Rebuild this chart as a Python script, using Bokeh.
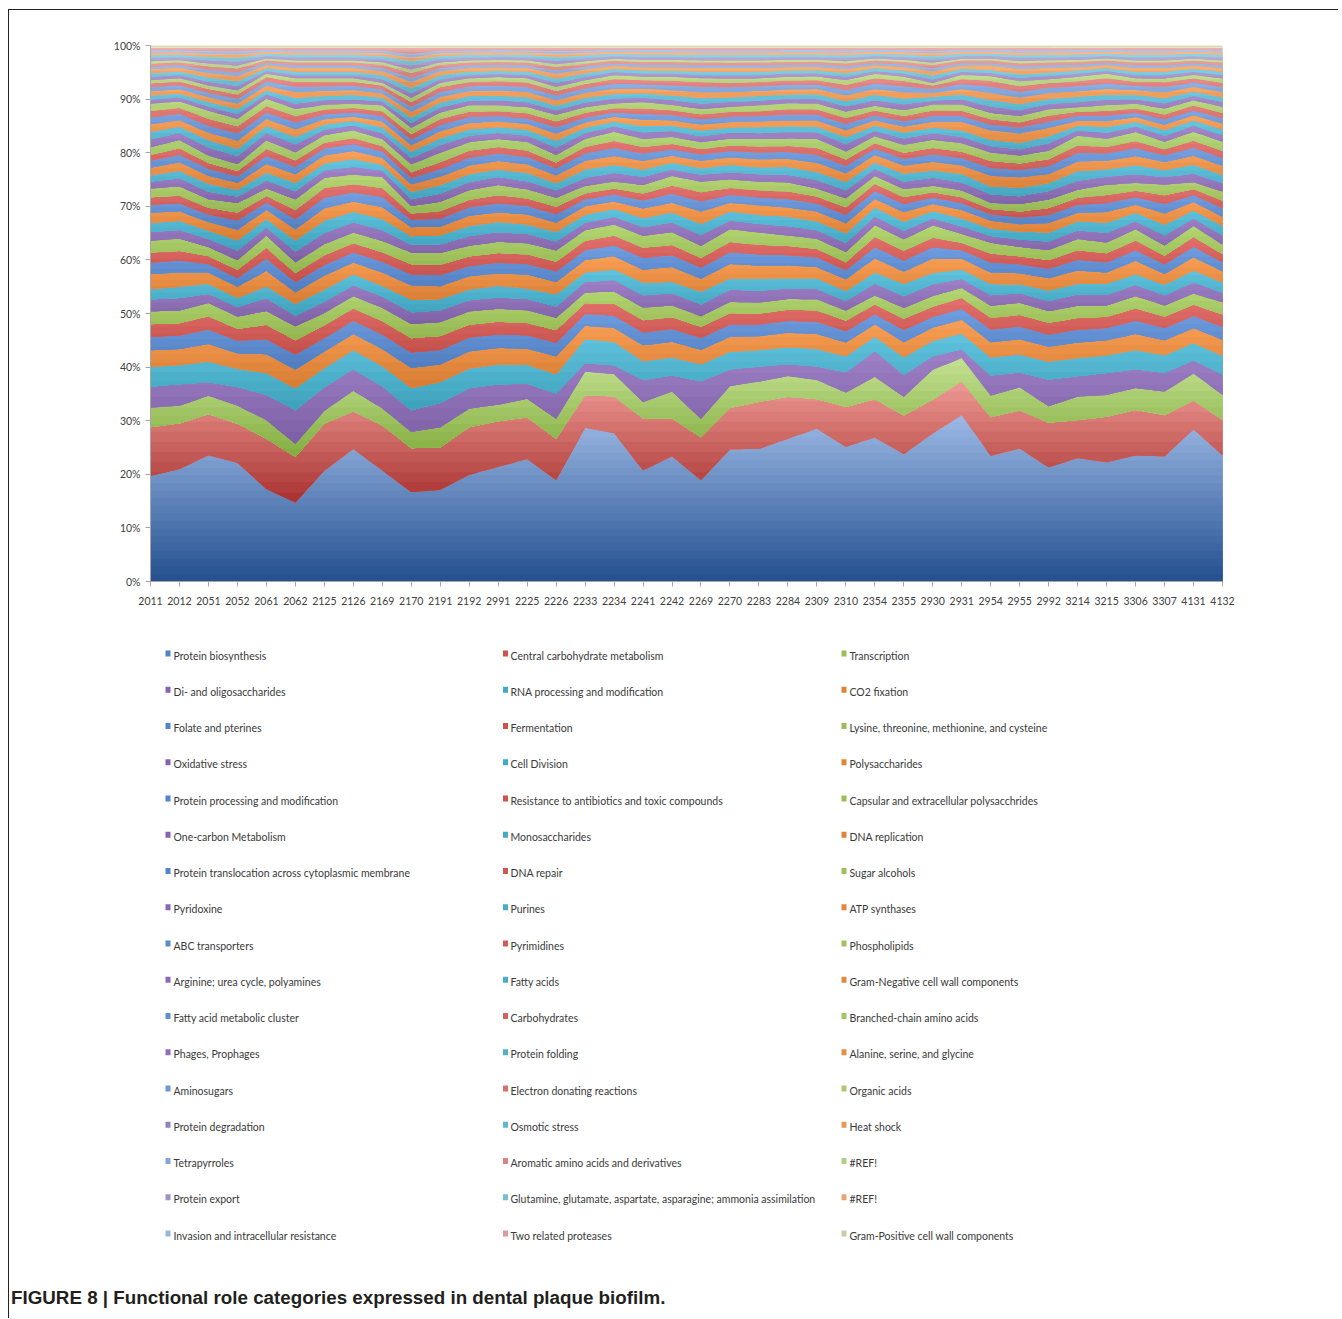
import numpy as np
from bokeh.plotting import figure
from bokeh.models import Range1d, FixedTicker, PrintfTickFormatter
from bokeh.core.properties import value
from bokeh.embed import file_html
from bokeh.resources import INLINE

samples = ["2011", "2012", "2051", "2052", "2061", "2062", "2125", "2126", "2169", "2170",
           "2191", "2192", "2991", "2225", "2226", "2233", "2234", "2241", "2242", "2269",
           "2270", "2283", "2284", "2309", "2310", "2354", "2355", "2930", "2931", "2954",
           "2955", "2992", "3214", "3215", "3306", "3307", "4131", "4132"]

categories = [
    "Protein biosynthesis", "Central carbohydrate metabolism", "Transcription",
    "Di- and oligosaccharides", "RNA processing and modification", "CO2 fixation",
    "Folate and pterines", "Fermentation", "Lysine, threonine, methionine, and cysteine",
    "Oxidative stress", "Cell Division", "Polysaccharides",
    "Protein processing and modification", "Resistance to antibiotics and toxic compounds", "Capsular and extracellular polysacchrides",
    "One-carbon Metabolism", "Monosaccharides", "DNA replication",
    "Protein translocation across cytoplasmic membrane", "DNA repair", "Sugar alcohols",
    "Pyridoxine", "Purines", "ATP synthases",
    "ABC transporters", "Pyrimidines", "Phospholipids",
    "Arginine; urea cycle, polyamines", "Fatty acids", "Gram-Negative cell wall components",
    "Fatty acid metabolic cluster", "Carbohydrates", "Branched-chain amino acids",
    "Phages, Prophages", "Protein folding", "Alanine, serine, and glycine",
    "Aminosugars", "Electron donating reactions", "Organic acids",
    "Protein degradation", "Osmotic stress", "Heat shock",
    "Tetrapyrroles", "Aromatic amino acids and derivatives", "#REF!",
    "Protein export", "Glutamine, glutamate, aspartate, asparagine; ammonia assimilation", "#REF!",
    "Invasion and intracellular resistance", "Two related proteases", "Gram-Positive cell wall components",
]

# ---- series values (percent of column) ----
protein_biosynthesis = [19.8,21.0,23.7,22.3,17.3,14.8,20.8,24.8,20.8,16.9, 17.1,20.0,21.4,23.0,19.0,28.8,27.7,20.8,23.4,19.0, 24.7,24.8,26.7,28.6,25.3,26.9,23.9,27.7,31.4,23.8, 25.2,21.5,23.1,22.3,23.6,23.4,28.6,23.6]
central_carbohydrate = [9.1,8.5,7.7,7.3,9.4,8.5,8.8,7.0,8.4,8.3, 7.9,8.9,8.5,7.8,7.7,6.1,6.8,9.7,7.1,8.0, 7.7,8.8,7.8,5.5,7.5,7.1,7.2,6.3,6.3,7.3, 7.2,8.4,7.1,8.5,8.5,7.7,5.4,6.6]
transcription = [3.7,3.3,3.5,3.4,3.5,2.5,2.4,3.9,3.2,3.1, 3.8,3.5,3.1,3.5,3.8,4.4,4.2,3.1,5.0,3.5, 4.1,3.8,3.9,3.6,2.7,4.2,3.5,5.6,4.4,4.1, 4.4,3.1,4.4,4.1,4.1,4.4,5.1,4.7]
di_oligosaccharides = [3.9,4.0,2.5,3.5,4.7,6.3,4.4,4.0,4.1,4.1, 4.5,3.8,3.8,2.8,4.7,1.6,1.6,4.1,3.0,7.0, 3.1,2.8,2.2,2.5,3.8,4.8,4.1,2.5,1.6,3.8, 2.8,5.0,3.8,4.1,3.5,3.5,2.4,3.8]
rna_processing = [3.7,3.6,3.9,3.4,4.1,4.1,3.6,3.6,3.8,4.2, 3.9,3.7,3.7,3.6,3.6,4.5,4.4,3.5,3.4,3.2, 3.3,3.1,3.2,3.3,3.0,2.7,3.3,2.9,3.0,3.4, 3.4,3.4,3.4,3.3,3.6,3.3,3.3,3.5]
co2_fixation = [3.1,3.0,3.3,2.9,3.5,3.5,3.1,3.0,3.2,3.8, 3.3,3.2,3.1,3.0,3.4,2.5,2.6,3.0,2.9,2.7, 2.8,2.6,2.7,2.8,2.6,2.3,2.8,2.5,2.6,2.9, 2.9,2.8,2.9,2.8,3.0,2.8,2.8,3.0]
folate_pterines = [2.5,2.5,2.7,2.4,2.8,2.8,2.5,2.5,2.7,2.9, 2.7,2.6,2.5,2.5,2.5,2.2,2.3,2.4,2.4,2.2, 2.3,2.2,2.2,2.3,2.1,1.9,2.3,2.0,2.1,2.4, 2.4,2.3,2.4,2.3,2.5,2.3,2.3,2.4]
fermentation = [2.4,2.3,2.5,2.2,2.7,2.7,2.4,2.3,2.5,2.7, 2.6,2.4,2.4,2.3,2.4,2.0,2.2,2.3,2.2,2.1, 2.1,2.0,2.1,2.1,2.0,1.8,2.1,1.9,2.0,2.2, 2.2,2.2,2.2,2.1,2.3,2.1,2.1,2.3]
lysine_threonine = [2.4,2.4,2.5,2.3,2.6,2.6,2.3,2.3,2.5,2.7, 2.6,2.5,2.4,2.4,2.3,2.0,2.3,2.35,2.2,2.0, 2.1,2.1,2.0,2.1,1.9,1.7,2.05,2.0,1.9,2.3, 2.3,2.2,2.3,2.1,2.3,2.1,2.1,2.3]
oxidative_stress = [2.2,2.3,1.7,1.8,2.4,2.0,2.1,2.0,2.1,2.2, 2.2,2.1,2.1,2.1,2.1,2.0,2.1,2.3,2.3,2.2, 2.3,2.2,2.0,1.9,1.8,2.2,2.2,2.2,1.7,2.0, 1.8,1.9,2.1,2.0,2.1,1.9,2.1,1.8]
cell_division = [2.0,2.1,1.9,1.7,2.2,2.2,2.3,2.1,2.0,2.4, 2.1,2.0,2.2,2.0,2.3,1.8,2.0,2.4,2.1,2.4, 2.1,2.3,1.9,2.0,1.9,2.1,2.3,2.1,1.8,2.1, 1.7,2.0,2.0,2.1,2.0,2.0,2.2,1.9]
polysaccharides = [2.8,2.7,2.1,2.1,2.9,2.2,2.6,2.2,2.5,2.7, 2.4,2.5,2.3,2.6,2.3,2.3,2.5,2.4,2.8,2.4, 2.7,2.4,2.4,2.1,2.2,2.6,2.3,2.7,2.0,2.2, 2.1,2.3,2.5,2.1,2.5,2.0,2.5,2.1]
protein_processing = [2.1,2.2,1.6,1.7,2.3,1.9,2.0,1.9,2.0,2.1, 2.1,1.9,2.0,2.0,2.0,1.9,2.0,2.2,2.2,2.1, 2.2,2.1,1.9,1.8,1.7,2.1,2.1,2.1,1.6,1.9, 1.7,1.8,2.0,1.9,2.0,1.8,2.0,1.7]
resistance_antibiotics = [1.9,1.8,1.5,1.5,2.0,1.7,1.8,1.7,1.8,1.9, 1.9,1.8,1.8,1.8,1.8,1.7,1.8,1.9,1.9,1.8, 1.9,1.8,1.7,1.6,1.5,1.9,1.8,1.8,1.4,1.7, 1.5,1.6,1.8,1.7,1.8,1.6,1.8,1.5]
capsular_polysaccharides = [2.25,2.3,1.7,1.8,2.3,2.0,2.1,2.0,2.1,2.2, 2.2,2.0,2.1,2.1,2.1,2.0,2.1,2.25,2.4,2.3, 2.4,2.3,2.0,1.9,1.9,2.2,2.15,2.3,1.7,2.0, 1.8,1.9,2.1,2.0,2.1,1.9,2.1,1.8]
one_carbon = [1.6,1.6,1.5,1.8,1.5,2.0,2.1,1.9,2.0,1.5, 1.6,1.8,1.8,1.7,1.7,1.4,1.4,1.6,1.8,2.0, 1.6,1.6,1.7,1.6,1.7,1.6,1.6,1.3,1.4,1.3, 1.4,1.6,1.6,1.8,1.5,1.9,1.4,1.7]
monosaccharides = [1.7,1.7,1.6,1.9,1.6,2.1,2.3,2.0,2.1,1.6, 1.7,1.9,1.9,1.8,1.8,1.5,1.5,1.7,1.9,2.1, 1.7,1.7,1.8,1.7,1.8,1.7,1.7,1.4,1.5,1.4, 1.5,1.7,1.7,1.9,1.6,2.0,1.5,1.8]
dna_replication = [1.9,1.8,1.6,2.0,1.7,2.1,2.3,1.9,2.2,1.7, 1.6,1.9,1.8,1.9,1.7,1.6,1.4,1.8,1.8,2.3, 1.6,1.8,1.7,1.8,1.9,1.6,1.8,1.3,1.6,1.5, 1.4,1.8,1.6,2.0,1.5,2.1,1.6,1.7]
protein_translocation = [1.5,1.5,1.4,1.7,1.4,1.9,2.0,1.7,1.9,1.4, 1.5,1.6,1.7,1.6,1.6,1.3,1.3,1.5,1.7,1.9, 1.5,1.5,1.6,1.5,1.6,1.5,1.5,1.2,1.3,1.2, 1.3,1.5,1.5,1.7,1.4,1.8,1.3,1.6]
dna_repair = [1.4,1.4,1.3,1.5,1.2,1.7,1.8,1.5,1.7,1.2, 1.4,1.4,1.5,1.4,1.4,1.1,1.1,1.3,1.5,1.7, 1.3,1.3,1.4,1.3,1.4,1.3,1.3,1.0,1.1,1.0, 1.1,1.3,1.3,1.5,1.2,1.6,1.1,1.4]
sugar_alcohols = [1.65,1.75,1.6,1.8,1.4,2.0,1.9,1.85,2.05,1.4, 1.75,1.8,1.9,1.7,1.7,1.4,1.3,1.6,1.8,2.0, 1.6,1.6,1.7,1.5,1.7,1.5,1.5,1.2,1.3,1.2, 1.4,1.6,1.5,1.9,1.5,2.0,1.3,1.7]
pyridoxine = [1.3,1.5,1.4,1.2,1.5,1.5,1.4,1.4,1.2,1.3, 1.5,1.5,1.5,1.5,1.4,1.5,1.6,1.5,1.2,1.3, 1.3,1.4,1.4,1.6,1.5,1.3,1.4,1.5,1.5,1.6, 1.5,1.6,1.7,1.5,1.6,1.4,1.6,1.6]
purines = [1.2,1.4,1.5,1.3,1.5,1.6,1.3,1.5,1.1,1.4, 1.6,1.5,1.4,1.6,1.3,1.6,1.5,1.4,1.3,1.2, 1.4,1.3,1.5,1.5,1.6,1.2,1.5,1.4,1.6,1.5, 1.6,1.5,1.8,1.4,1.7,1.3,1.7,1.5]
atp_synthases = [1.4,1.6,1.5,1.3,1.6,1.6,1.5,1.5,1.3,1.4, 1.6,1.6,1.6,1.6,1.5,1.6,1.7,1.6,1.3,1.4, 1.4,1.5,1.5,1.7,1.6,1.4,1.5,1.6,1.6,2.0, 2.0,1.7,1.8,1.6,1.7,1.5,1.7,1.7]
abc_transporters = [1.3,1.4,1.3,1.2,1.5,1.4,1.3,1.3,1.2,1.2, 1.4,1.5,1.4,1.4,1.3,1.4,1.5,1.4,1.2,1.2, 1.2,1.3,1.3,1.5,1.4,1.2,1.3,1.4,1.4,1.5, 1.4,1.5,1.6,1.4,1.5,1.3,1.5,1.5]
pyrimidines = [1.1,1.2,1.1,1.0,1.3,1.2,1.1,1.1,1.0,1.1, 1.3,1.3,1.2,1.2,1.1,1.2,1.3,1.2,1.0,1.0, 1.0,1.1,1.1,1.3,1.2,1.0,1.1,1.2,1.2,1.3, 1.2,1.3,1.4,1.2,1.3,1.1,1.3,1.3]
phospholipids = [1.45,1.55,1.4,1.3,1.6,1.5,1.4,1.45,1.3,1.5, 1.75,1.6,1.5,1.6,1.4,1.5,1.7,1.5,1.3,1.3, 1.3,1.4,1.4,1.7,1.5,1.3,1.5,1.5,1.6,1.6, 1.5,1.6,1.8,1.5,1.7,1.4,1.7,1.7]
arginine_polyamines = [1.5,1.3,1.5,1.5,1.4,1.5,1.0,0.9,1.1,1.2, 1.4,1.2,1.1,1.2,1.4,1.1,1.0,1.2,1.1,1.1, 1.1,1.1,1.2,1.2,1.4,1.0,1.2,1.2,1.2,1.2, 1.2,1.4,1.0,1.1,1.0,1.1,1.1,1.2]
fatty_acids = [1.4,1.2,1.4,1.4,1.3,1.4,1.0,0.9,1.1,1.2, 1.3,1.2,1.1,1.1,1.3,1.0,0.9,1.2,1.0,1.1, 1.0,1.1,1.1,1.1,1.3,1.0,1.1,1.1,1.2,1.2, 1.2,1.3,0.9,1.1,0.9,1.1,1.0,1.1]
gram_negative_wall = [1.4,1.2,1.4,1.5,1.3,1.4,1.0,0.8,1.1,1.2, 1.3,1.2,1.1,1.1,1.3,1.0,0.9,1.2,1.0,1.1, 1.0,1.1,1.1,1.1,1.3,1.0,1.1,1.1,1.6,1.8, 1.8,1.6,0.9,1.1,0.9,1.0,1.0,1.1]
fatty_acid_cluster = [1.3,1.2,1.3,1.4,1.2,1.3,0.9,0.8,1.0,1.1, 1.2,1.1,1.0,1.0,1.2,0.9,0.8,1.1,1.0,1.0, 1.0,1.0,1.1,1.1,1.2,0.9,1.0,1.1,1.1,1.1, 1.1,1.2,0.9,1.0,0.8,1.0,0.9,1.0]
carbohydrates = [1.2,1.1,1.3,1.3,1.2,1.2,0.9,0.8,0.9,1.0, 1.1,1.0,0.9,1.0,1.1,0.9,0.8,1.0,0.9,0.9, 0.9,0.9,1.0,1.0,1.1,0.9,1.0,1.0,1.0,1.0, 1.0,1.1,0.8,0.9,0.8,0.9,0.9,1.0]
branched_chain = [1.35,1.2,1.5,1.4,1.4,1.3,0.9,0.8,1.1,1.2, 1.2,1.2,1.1,1.15,1.2,1.05,0.9,1.2,1.0,1.0, 0.95,1.1,1.1,1.1,1.2,0.9,1.1,1.1,1.2,1.2, 1.2,1.2,0.85,1.1,0.9,1.1,1.0,1.15]
phages_prophages = [0.75,0.75,0.8,0.9,0.8,1.0,0.85,0.8,0.75,0.95, 0.95,0.85,0.9,0.9,0.9,0.85,0.9,0.8,0.9,1.0, 0.9,0.85,0.85,0.85,1.0,1.0,1.1,0.7,0.95,1.2, 1.1,1.0,0.95,1.0,0.8,1.0,0.8,0.9]
protein_folding = [0.8,0.7,0.85,0.95,0.75,1.05,0.8,0.85,0.7,1.0, 0.9,0.9,0.85,0.95,0.85,0.9,0.85,0.85,0.85,1.05, 0.85,0.9,0.8,0.9,0.95,1.05,1.05,0.75,0.9,1.25, 1.15,0.95,1.0,0.95,0.85,0.95,0.85,0.85]
alanine_serine_glycine = [0.8,0.85,0.9,1.0,0.9,1.1,0.95,0.9,0.8,1.05, 1.05,0.95,1.0,1.0,1.0,0.95,1.0,0.9,1.0,1.1, 1.0,0.95,0.95,0.95,1.1,1.1,1.2,0.75,1.05,1.3, 1.25,1.1,1.05,1.1,0.9,1.1,0.9,1.0]
aminosugars = [0.75,0.75,0.8,0.9,0.8,1.0,0.85,0.8,0.75,0.95, 0.95,0.85,0.9,0.9,0.9,0.85,0.9,0.8,0.9,1.0, 0.9,0.85,0.85,0.85,1.0,1.0,1.1,0.7,0.95,1.2, 1.1,1.0,0.95,1.0,0.8,1.0,0.8,0.9]
electron_donating = [0.7,0.7,0.75,0.85,0.75,0.9,0.8,0.75,0.7,0.9, 0.9,0.8,0.85,0.85,0.85,0.8,0.85,0.75,0.85,0.9, 0.85,0.8,0.8,0.8,0.95,0.95,1.0,0.65,0.9,1.1, 1.05,0.9,0.9,0.95,0.75,0.9,0.75,0.85]
organic_acids = [0.6,0.6,0.65,0.75,0.65,0.7,0.7,0.65,0.55,0.8, 0.8,0.7,0.75,0.8,0.75,0.7,0.75,0.65,0.75,0.7, 0.8,0.7,0.7,0.7,0.9,0.85,0.8,0.5,0.8,0.9, 0.95,0.7,0.85,0.85,0.65,0.7,0.65,0.8]
protein_degradation = [0.6,0.6,0.7,0.8,0.5,0.6,0.6,0.6,0.65,0.9, 0.65,0.6,0.55,0.6,0.75,0.6,0.55,0.55,0.55,0.6, 0.6,0.6,0.55,0.55,0.6,0.5,0.55,0.65,0.55,0.55, 0.6,0.6,0.55,0.5,0.6,0.6,0.55,0.6]
osmotic_stress = [0.7,0.65,0.8,0.9,0.55,0.65,0.65,0.65,0.75,1.0, 0.75,0.65,0.6,0.65,0.8,0.7,0.6,0.6,0.6,0.65, 0.65,0.65,0.6,0.6,0.7,0.55,0.6,0.75,0.6,0.6, 0.7,0.65,0.6,0.55,0.65,0.65,0.6,0.65]
heat_shock = [0.75,0.7,0.85,1.0,0.6,0.7,0.7,0.7,0.8,1.1, 0.8,0.7,0.7,0.7,0.9,0.75,0.65,0.65,0.65,0.7, 0.7,0.7,0.65,0.65,0.75,0.6,0.65,0.8,0.65,0.9, 1.0,0.9,0.65,0.6,0.7,0.7,0.65,0.7]
tetrapyrroles = [0.5,0.45,0.6,0.65,0.4,0.45,0.45,0.45,0.55,0.75, 0.55,0.45,0.45,0.45,0.6,0.5,0.4,0.45,0.45,0.45, 0.45,0.45,0.45,0.45,0.5,0.4,0.45,0.55,0.4,0.4, 0.5,0.45,0.45,0.4,0.45,0.45,0.4,0.45]
aromatic_amino_acids = [0.55,0.55,0.65,0.75,0.45,0.55,0.55,0.55,0.6,1.0, 0.6,0.55,0.5,0.55,0.7,0.55,0.5,0.5,0.5,0.55, 0.55,0.55,0.5,0.5,0.55,0.45,0.5,0.6,0.5,0.5, 0.55,0.55,0.5,0.45,0.55,0.55,0.5,0.55]
ref_a = [0.45,0.4,0.5,0.55,0.35,0.4,0.4,0.4,0.45,0.6, 0.45,0.4,0.4,0.4,0.5,0.45,0.35,0.4,0.4,0.4, 0.4,0.4,0.4,0.4,0.45,0.35,0.4,0.45,0.35,0.35, 0.45,0.4,0.4,0.35,0.4,0.4,0.35,0.4]
protein_export = [0.55,0.5,0.65,0.7,0.45,0.5,0.55,0.5,0.6,0.8, 0.6,0.5,0.5,0.55,0.65,0.55,0.45,0.5,0.5,0.5, 0.55,0.5,0.5,0.45,0.55,0.45,0.5,0.6,0.45,0.5, 0.55,0.5,0.5,0.45,0.5,0.55,0.45,0.5]
glutamine_glutamate = [0.55,0.55,0.6,0.75,0.45,0.55,0.5,0.55,0.6,0.8, 0.6,0.55,0.5,0.5,0.7,0.55,0.5,0.5,0.5,0.55, 0.5,0.55,0.5,0.5,0.55,0.45,0.5,0.6,0.5,0.45, 0.55,0.55,0.5,0.45,0.55,0.5,0.5,0.55]
ref_b = [0.5,0.45,0.6,0.65,0.4,0.45,0.45,0.45,0.55,0.7, 0.55,0.45,0.45,0.45,0.6,0.5,0.4,0.45,0.45,0.45, 0.45,0.45,0.45,0.45,0.5,0.4,0.45,0.55,0.4,0.4, 0.5,0.45,0.45,0.4,0.45,0.45,0.4,0.45]
invasion_resistance = [0.45,0.4,0.5,0.55,0.35,0.4,0.4,0.4,0.45,0.6, 0.45,0.4,0.4,0.4,0.5,0.45,0.35,0.4,0.4,0.4, 0.4,0.4,0.4,0.4,0.45,0.35,0.4,0.45,0.35,0.35, 0.45,0.4,0.4,0.35,0.4,0.4,0.35,0.4]
two_related_proteases = [0.5,0.45,0.6,0.65,0.4,0.5,0.5,0.5,0.55,1.2, 0.55,0.5,0.45,0.5,0.6,0.5,0.4,0.45,0.45,0.5, 0.5,0.5,0.45,0.45,0.5,0.4,0.45,0.55,0.4,0.4, 0.5,0.5,0.45,0.4,0.5,0.5,0.4,0.5]
gram_positive_wall = [0.4,0.4,0.45,0.45,0.4,0.4,0.4,0.4,0.4,0.45, 0.4,0.4,0.4,0.4,0.45,0.4,0.4,0.4,0.4,0.4, 0.4,0.4,0.4,0.4,0.4,0.4,0.4,0.45,0.4,0.4, 0.4,0.4,0.4,0.4,0.4,0.4,0.4,0.4]

series = [
    protein_biosynthesis, central_carbohydrate, transcription,
    di_oligosaccharides, rna_processing, co2_fixation,
    folate_pterines, fermentation, lysine_threonine,
    oxidative_stress, cell_division, polysaccharides,
    protein_processing, resistance_antibiotics, capsular_polysaccharides,
    one_carbon, monosaccharides, dna_replication,
    protein_translocation, dna_repair, sugar_alcohols,
    pyridoxine, purines, atp_synthases,
    abc_transporters, pyrimidines, phospholipids,
    arginine_polyamines, fatty_acids, gram_negative_wall,
    fatty_acid_cluster, carbohydrates, branched_chain,
    phages_prophages, protein_folding, alanine_serine_glycine,
    aminosugars, electron_donating, organic_acids,
    protein_degradation, osmotic_stress, heat_shock,
    tetrapyrroles, aromatic_amino_acids, ref_a,
    protein_export, glutamine_glutamate, ref_b,
    invasion_resistance, two_related_proteases, gram_positive_wall,
]

# ---- colours ----
hues = ["#5A8EDC", "#E05A55", "#A8D05C", "#8F6CBE", "#47B9D8", "#F78F3A"]
lighten = [0.0, 0.0, 0.0, 0.03, 0.06, 0.10, 0.20, 0.33, 0.48]


def to_rgb(h):
    h = h.lstrip("#")
    return [int(h[i:i + 2], 16) for i in (0, 2, 4)]


def to_hex(c):
    return "#%02x%02x%02x" % tuple(int(round(max(0, min(255, v)))) for v in c)


def mix(a, b, t):
    A, B = to_rgb(a), to_rgb(b)
    return to_hex([A[i] + (B[i] - A[i]) * t for i in range(3)])


n = len(series)
colors = [mix(hues[i % 6], "#ffffff", lighten[i // 6]) for i in range(n)]
colors[-1] = "#E0DCB8"
grad = [(mix(c, "#000000", 0.13), mix(c, "#ffffff", 0.14)) for c in colors]
grad[0] = ("#23508F", "#9DB9E6")
grad[1] = ("#A83130", "#EE9A94")
grad[2] = ("#82AC3E", "#C4E192")
grad[-1] = ("#EEEBD4", "#D2CDA6")

# ---- stacking (100 %) ----
vals = np.array(series, dtype=float)
pct = vals / vals.sum(axis=0) * 100.0
cum = np.vstack([np.zeros(vals.shape[1]), np.cumsum(pct, axis=0)])
x = np.arange(len(samples), dtype=float)
xd = np.linspace(0, len(samples) - 1, (len(samples) - 1) * 6 + 1)
cumd = np.array([np.interp(xd, x, c) for c in cum])

FONT = "Lato"

p = figure(width=1330, height=620, x_range=Range1d(0, len(samples) - 1), y_range=Range1d(0, 100),
           output_backend="svg", toolbar_location=None,
           min_border_left=141, min_border_right=117, min_border_top=35, min_border_bottom=49,
           styles={"margin-left": "8px", "margin-top": "9px",
                   "border-left": "1px solid #222222", "border-top": "1px solid #222222"})
p.xgrid.visible = False
p.ygrid.visible = False
p.outline_line_color = None
p.background_fill_color = "white"

# base fills (prevent seams between neighbouring series)
for k in range(n - 1, -1, -1):
    p.varea(x=xd, y1=np.zeros_like(xd), y2=cumd[k + 1],
            fill_color=mix(grad[k][0], grad[k][1], 0.55), fill_alpha=1.0)

# gradient per series: strips painted from the top of the shape downwards,
# each strip stays between the series' own lower and upper edges
for k in range(n):
    L, U = cumd[k], cumd[k + 1]
    lo, hi = L.min(), U.max()
    if k == 0:
        K = 22
    elif k < 3:
        K = 12
    else:
        K = int(np.clip(np.ceil((hi - lo) / 1.2), 3, 8))
    edges = np.linspace(lo, hi, K + 1)
    for i in range(K - 1, -1, -1):
        top = np.maximum(L, np.minimum(U, edges[i + 1]))
        if np.all(top - L < 1e-6):
            continue
        p.varea(x=xd, y1=L, y2=top, fill_color=mix(grad[k][0], grad[k][1], (i + 0.5) / K), fill_alpha=1.0)

p.xaxis.ticker = FixedTicker(ticks=list(range(len(samples))))
p.xaxis.major_label_overrides = {i: s for i, s in enumerate(samples)}
p.yaxis.ticker = FixedTicker(ticks=list(range(0, 101, 10)))
p.yaxis.formatter = PrintfTickFormatter(format="%d%%")
for ax in (p.xaxis[0], p.yaxis[0]):
    ax.axis_line_color = "#A6A6A6"
    ax.major_tick_line_color = "#A6A6A6"
    ax.minor_tick_line_color = None
    ax.major_tick_out = 5
    ax.major_tick_in = 0
    ax.major_label_text_font = FONT
    ax.major_label_text_font_size = "10.5px"
    ax.major_label_text_color = "#404040"
p.xaxis.major_label_standoff = 10
p.yaxis.major_label_standoff = 5

# ---- legend + caption ----
W, H = 1330, 689
q = figure(width=W, height=H, x_range=Range1d(0, W), y_range=Range1d(H, 0),
           output_backend="svg", toolbar_location=None, min_border=0,
           x_axis_type=None, y_axis_type=None,
           styles={"margin-left": "8px", "border-left": "1px solid #222222"})
q.xgrid.visible = False
q.ygrid.visible = False
q.outline_line_color = None

col_sw = [158.5, 496.0, 834.5]
col_tx = [164.0, 501.0, 840.0]
row0, dy = 26.0, 36.25
lx, ly, sx, sy, sc = [], [], [], [], []
for i, name in enumerate(categories):
    r, c = divmod(i, 3)
    lx.append(col_tx[c])
    ly.append(row0 + dy * r)
    sx.append(col_sw[c])
    sy.append(row0 + dy * r - 2)
    sc.append(mix(colors[i], "#000000", 0.08))
q.rect(x=sx, y=sy, width=5, height=6, fill_color=sc, line_color=None)
q.text(x=lx, y=ly, text=categories, text_font=value(FONT), text_font_size="10.5px",
       text_color="#3A3A3A", text_baseline="middle", text_align="left")
q.text(x=[1.5], y=[668], text=["FIGURE 8 | Functional role categories expressed in dental plaque biofilm."],
       text_font=value("Liberation Sans"), text_font_style="bold", text_font_size="18.8px",
       text_color="#231F20", text_baseline="middle", text_align="left")

open("out.html", "w").write(file_html([p, q], INLINE))
